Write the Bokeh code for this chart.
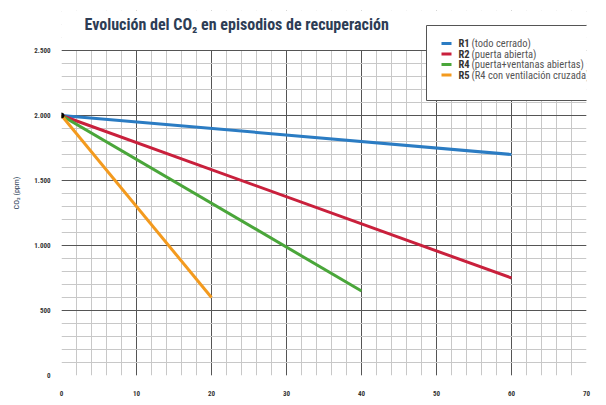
from bokeh.plotting import figure
from bokeh.models import Range1d, SingleIntervalTicker, Label, BoxAnnotation
from bokeh.embed import file_html
from bokeh.resources import INLINE

# data
r1_x = [0, 60]; r1_y = [2000, 1700]
r2_x = [0, 60]; r2_y = [2000, 750]
r4_x = [0, 40]; r4_y = [2000, 650]
r5_x = [0, 20]; r5_y = [2000, 600]
start_x = [0]; start_y = [2000]
series_names = ["R1", "R2", "R4", "R5"]
series_desc = ["(todo cerrado)", "(puerta abierta)", "(puerta+ventanas abiertas)", "(R4 con ventilación cruzada)"]
colors = ["#2b7cc3", "#c9203c", "#4aa63a", "#f39a1e"]
y_ticks = [0, 500, 1000, 1500, 2000, 2500]
y_tick_labels = ["0", "500", "1.000", "1.500", "2.000", "2.500"]
title_text = "Evolución del CO₂ en episodios de recuperación"
Y_MAX = 2500
X_MAX = 70

FONT = "'Roboto Condensed', 'DejaVu Sans Condensed', Roboto"
W, H = 598, 399
PLOT_H = 325      # height of the 0..2500 grid area
EXTRA = 40        # free space above the grid, inside the frame
y_end = Y_MAX * (PLOT_H + EXTRA) / PLOT_H

p = figure(width=W, height=H, output_backend="svg", toolbar_location=None,
           x_range=Range1d(0, X_MAX), y_range=Range1d(0, y_end),
           min_border_left=61, min_border_right=12, min_border_top=10, min_border_bottom=24)
p.frame_width = 525
p.frame_height = PLOT_H + EXTRA

p.outline_line_color = None
p.background_fill_color = "white"
p.border_fill_color = "white"

for ax in (p.xaxis, p.yaxis):
    ax.major_tick_line_color = None
    ax.minor_tick_line_color = None
    ax.axis_line_color = None
    ax.major_label_text_font = FONT
    ax.major_label_text_font_style = "bold"
    ax.major_label_text_font_size = "7px"
    ax.major_label_text_color = "#333333"

p.xaxis.ticker = SingleIntervalTicker(interval=10, num_minor_ticks=5)
p.yaxis.ticker = SingleIntervalTicker(interval=500, num_minor_ticks=5)
p.yaxis.major_label_overrides = {t: l for t, l in zip(y_ticks, y_tick_labels)}
p.xaxis.major_label_standoff = 9
p.yaxis.major_label_standoff = 5

p.yaxis.axis_label = "CO₂ (ppm)"
p.yaxis.axis_label_text_font = FONT
p.yaxis.axis_label_text_font_style = "normal"
p.yaxis.axis_label_text_font_size = "8px"
p.yaxis.axis_label_text_color = "#2a3b55"
p.yaxis.axis_label_standoff = 10

p.xgrid.ticker = SingleIntervalTicker(interval=10, num_minor_ticks=5)
p.ygrid.ticker = SingleIntervalTicker(interval=500, num_minor_ticks=5)
for g in (p.xgrid, p.ygrid):
    g.grid_line_color = "#555555"
    g.grid_line_width = 1
    g.minor_grid_line_color = "#c8c8c8"
    g.minor_grid_line_width = 1

series = [(r1_x, r1_y), (r2_x, r2_y), (r4_x, r4_y), (r5_x, r5_y)]
for (xs, ys), col in zip(series, colors):
    p.line(xs, ys, line_color=col, line_width=3)

p.scatter(start_x, start_y, size=5, color="black")

# white cover above the 2500 line (keeps the grid area 0..2500 only)
p.add_layout(BoxAnnotation(bottom=Y_MAX + 4, fill_color="white", fill_alpha=1.0, line_alpha=0,
                           level="annotation"))

# screen units are measured from the frame's bottom-left corner
def sx(px):
    return px - 63

def sy(py):
    return 375 - py

p.add_layout(Label(x=sx(86), y=sy(24), x_units="screen", y_units="screen", text=title_text,
                   text_font=FONT, text_font_size="16px", text_font_style="bold",
                   text_color="#2d3d55", text_baseline="middle", text_align="left"))

# manual legend
p.add_layout(BoxAnnotation(left=sx(428), right=sx(599), top=sy(25), bottom=sy(100),
                           left_units="screen", right_units="screen",
                           top_units="screen", bottom_units="screen",
                           fill_color="white", fill_alpha=1.0,
                           line_color="#555555", line_width=1, line_alpha=1.0))
row_y = [43, 53.5, 64, 74.5]
for name, desc, col, ry in zip(series_names, series_desc, colors, row_y):
    p.add_layout(BoxAnnotation(left=sx(443), right=sx(453), top=sy(ry - 1.5), bottom=sy(ry + 1.5),
                               left_units="screen", right_units="screen",
                               top_units="screen", bottom_units="screen",
                               fill_color=col, fill_alpha=1.0, line_alpha=0))
    p.add_layout(Label(x=sx(460), y=sy(ry), x_units="screen", y_units="screen", text=name,
                       text_font=FONT, text_font_size="10.5px", text_font_style="bold",
                       text_color="#333333", text_baseline="middle", text_align="left"))
    p.add_layout(Label(x=sx(473), y=sy(ry), x_units="screen", y_units="screen", text=desc,
                       text_font=FONT, text_font_size="10.5px", text_font_style="normal",
                       text_color="#555555", text_baseline="middle", text_align="left"))

open("out.html", "w").write(file_html(p, INLINE))
